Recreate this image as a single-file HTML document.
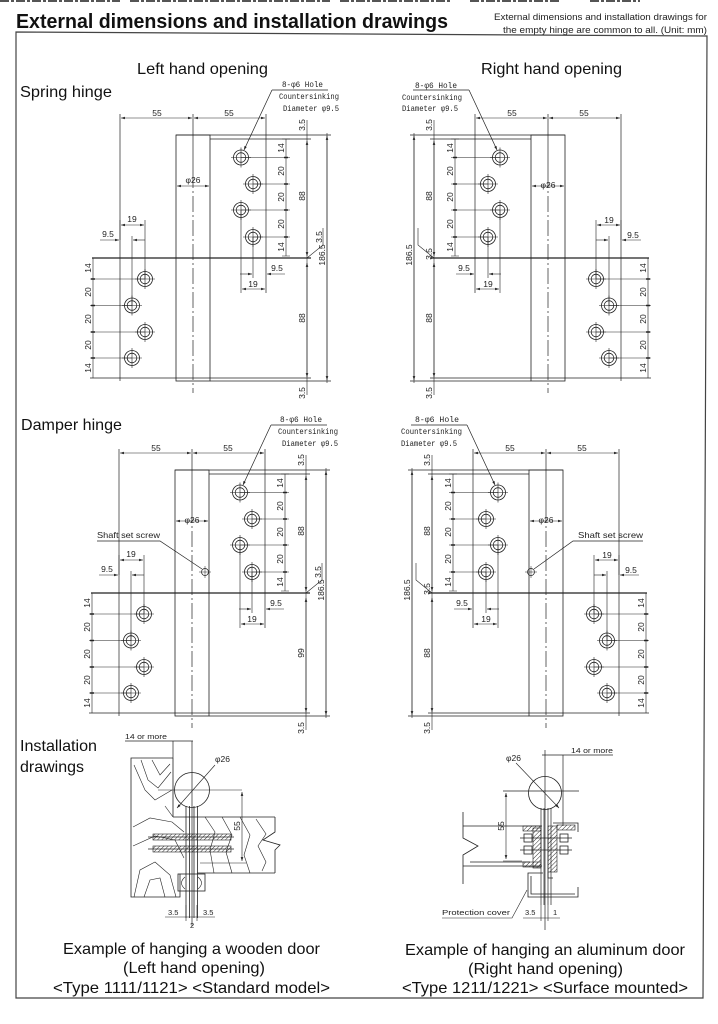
<!DOCTYPE html>
<html><head><meta charset="utf-8"><style>
html,body{margin:0;padding:0;background:#fff;}
svg{display:block;}
.L{font-family:"Liberation Sans",sans-serif;font-size:16px;fill:#111;}
.d{font-family:"Liberation Sans",sans-serif;font-size:8.5px;fill:#222;}
.m{font-family:"Liberation Mono",monospace;font-size:8.5px;fill:#222;}
.s{font-family:"Liberation Sans",sans-serif;font-size:7.5px;fill:#222;}
</style></head><body>
<svg width="718" height="1024" viewBox="0 0 718 1024" xmlns="http://www.w3.org/2000/svg">
<defs>
<marker id="a" viewBox="0 0 6 4" refX="6" refY="2" markerWidth="4" markerHeight="2.6" markerUnits="userSpaceOnUse" orient="auto-start-reverse"><path d="M0,0L6,2L0,4z" fill="#222"/></marker>
<pattern id="hat" width="3" height="3" patternUnits="userSpaceOnUse" patternTransform="rotate(45)"><line x1="0" y1="0" x2="0" y2="3" stroke="#333" stroke-width="1"/></pattern>
<g id="h" fill="none" stroke="#222" stroke-width="0.8"><circle r="7.5"/><circle r="4.8"/><path d="M-10,0H10M0,-10V10" stroke-width="0.6"/></g>
<g id="hs" fill="none" stroke="#222" stroke-width="0.8">
 <line x1="121" y1="118" x2="192" y2="118" stroke-width="0.6" marker-start="url(#a)" marker-end="url(#a)"/>
 <line x1="194" y1="118" x2="265" y2="118" stroke-width="0.6" marker-start="url(#a)" marker-end="url(#a)"/>
 <path d="M120,114V381M266,114V293M193,114V172" stroke-width="0.7"/>
 <path d="M193,172V393" stroke-width="0.7" stroke-dasharray="16 3 2 3"/>
 <rect x="176" y="135" width="34" height="246"/>
 <path d="M176,135H331M210,139H311M90,378H311M210,381H331"/>
 <path d="M92,258H311" stroke-width="1.2"/>
 <path d="M307,120V395M327,133V383M286,139V256" stroke-width="0.6"/>
 <line x1="307" y1="141" x2="307" y2="256" stroke-width="0.6" marker-start="url(#a)" marker-end="url(#a)"/>
 <line x1="307" y1="263" x2="307" y2="377" stroke-width="0.6" marker-start="url(#a)" marker-end="url(#a)"/>
 <line x1="327" y1="136" x2="327" y2="380" stroke-width="0.6" marker-start="url(#a)" marker-end="url(#a)"/>
 <path d="M241,157.5H290M253,184H290M241,210H290M253,237H290M282,256H290M282,139H290" stroke-width="0.6"/>
 <path d="M284,157.5H288M284,184H288M284,210H288M284,237H288" stroke-width="1.4"/>
 <path d="M93,258V378M90,279H145M90,305.5H132M90,332H145M90,358H132" stroke-width="0.6"/>
 <path d="M91,279H95M91,305.5H95M91,332H95M91,358H95" stroke-width="1.4"/>
 <line x1="121" y1="225" x2="144" y2="225" stroke-width="0.6" marker-start="url(#a)" marker-end="url(#a)"/>
 <path d="M145,220V279M132,236V306M120,220V240" stroke-width="0.6"/>
 <path d="M100,240H119" stroke-width="0.6" marker-end="url(#a)"/>
 <path d="M145,240H133" stroke-width="0.6" marker-end="url(#a)"/>
 <path d="M253,237V278M241,210V293" stroke-width="0.6"/>
 <path d="M240,274H252" stroke-width="0.6" marker-end="url(#a)"/>
 <path d="M285,274H267" stroke-width="0.6" marker-end="url(#a)"/>
 <line x1="242" y1="289" x2="265" y2="289" stroke-width="0.6" marker-start="url(#a)" marker-end="url(#a)"/>
 <path d="M307,258L323,245V228" stroke-width="0.6"/>
 <line x1="177" y1="186" x2="209" y2="186" stroke-width="0.6" marker-start="url(#a)" marker-end="url(#a)"/>
 <path d="M272,90H328" stroke-width="0.7"/>
 <path d="M272,90L244,150" stroke-width="0.7" marker-end="url(#a)"/>
 <use href="#h" x="241" y="157.5"/><use href="#h" x="253" y="184"/><use href="#h" x="241" y="210"/><use href="#h" x="253" y="237"/>
 <use href="#h" x="145" y="279"/><use href="#h" x="132" y="305.5"/><use href="#h" x="145" y="332"/><use href="#h" x="132" y="358"/>
</g>
</defs>

<!-- top scan noise -->
<path d="M0,1H120M130,1H330M340,1H450M470,1H560M590,1H640" stroke="#555" stroke-width="2" stroke-dasharray="9 2 3 2"/>

<!-- title -->
<text x="16" y="28" font-family="Liberation Sans, sans-serif" font-weight="bold" font-size="20" textLength="432" lengthAdjust="spacingAndGlyphs" fill="#111">External dimensions and installation drawings</text>
<text x="494" y="20" font-family="Liberation Sans, sans-serif" font-size="9.5" textLength="213" lengthAdjust="spacingAndGlyphs" fill="#222">External dimensions and installation drawings for</text>
<text x="503" y="33" font-family="Liberation Sans, sans-serif" font-size="9.5" textLength="204" lengthAdjust="spacingAndGlyphs" fill="#222">the empty hinge are common to all. (Unit: mm)</text>

<!-- frame -->
<path d="M16,32L707,36L703,998L16,998Z" fill="none" stroke="#444" stroke-width="1.2"/>

<!-- section titles -->
<text class="L" x="137" y="74" textLength="131" lengthAdjust="spacingAndGlyphs">Left hand opening</text>
<text class="L" x="481" y="74" textLength="141" lengthAdjust="spacingAndGlyphs">Right hand opening</text>
<text class="L" x="20" y="97" textLength="92" lengthAdjust="spacingAndGlyphs">Spring hinge</text>
<text class="L" x="21" y="430" textLength="101" lengthAdjust="spacingAndGlyphs">Damper hinge</text>
<text class="L" x="20" y="751" textLength="77" lengthAdjust="spacingAndGlyphs">Installation</text>
<text class="L" x="20" y="772" textLength="64" lengthAdjust="spacingAndGlyphs">drawings</text>

<!-- hinge drawings -->
<use href="#hs"/>
<use href="#hs" transform="matrix(-1 0 0 1 741 0)"/>
<use href="#hs" transform="translate(-1 335)"/>
<use href="#hs" transform="matrix(-1 0 0 1 739 335)"/>

<!-- shaft set screws -->
<g fill="none" stroke="#222" stroke-width="0.7">
 <path d="M97,541H160L202,569"/><circle cx="205" cy="572" r="3.5"/><path d="M199,572H211M205,566V578" stroke-width="0.5"/>
 <path d="M643,541H573L534,569"/><circle cx="531" cy="572" r="3.5"/><path d="M525,572H537M531,566V578" stroke-width="0.5"/>
</g>
<text class="d" x="97" y="538" textLength="63" lengthAdjust="spacingAndGlyphs">Shaft set screw</text>
<text class="d" x="578" y="538" textLength="65" lengthAdjust="spacingAndGlyphs">Shaft set screw</text>

<!-- leader texts -->
<g class="m">
 <text x="282" y="87" textLength="41" lengthAdjust="spacingAndGlyphs">8-φ6 Hole</text>
 <text x="279" y="99" textLength="60" lengthAdjust="spacingAndGlyphs">Countersinking</text>
 <text x="283" y="111" textLength="56" lengthAdjust="spacingAndGlyphs">Diameter φ9.5</text>
 <text x="415" y="88" textLength="42" lengthAdjust="spacingAndGlyphs">8-φ6 Hole</text>
 <text x="402" y="100" textLength="60" lengthAdjust="spacingAndGlyphs">Countersinking</text>
 <text x="402" y="111" textLength="56" lengthAdjust="spacingAndGlyphs">Diameter φ9.5</text>
 <text x="280" y="422" textLength="42" lengthAdjust="spacingAndGlyphs">8-φ6 Hole</text>
 <text x="278" y="434" textLength="60" lengthAdjust="spacingAndGlyphs">Countersinking</text>
 <text x="282" y="446" textLength="56" lengthAdjust="spacingAndGlyphs">Diameter φ9.5</text>
 <text x="415" y="422" textLength="44" lengthAdjust="spacingAndGlyphs">8-φ6 Hole</text>
 <text x="401" y="434" textLength="61" lengthAdjust="spacingAndGlyphs">Countersinking</text>
 <text x="401" y="446" textLength="56" lengthAdjust="spacingAndGlyphs">Diameter φ9.5</text>
</g>

<!-- dimension texts: left spring -->
<g class="d" text-anchor="middle">
 <text x="157" y="116">55</text><text x="229" y="116">55</text><text x="193" y="183">φ26</text>
 <text x="132" y="222">19</text><text x="108" y="237">9.5</text><text x="277" y="271">9.5</text><text x="253" y="287">19</text>
 <text transform="translate(305,125) rotate(-90)">3.5</text>
 <text transform="translate(284,148) rotate(-90)">14</text><text transform="translate(284,171) rotate(-90)">20</text>
 <text transform="translate(284,197) rotate(-90)">20</text><text transform="translate(284,224) rotate(-90)">20</text>
 <text transform="translate(284,247) rotate(-90)">14</text>
 <text transform="translate(305,196) rotate(-90)">88</text><text transform="translate(322,237) rotate(-90)">3.5</text>
 <text transform="translate(325,255) rotate(-90)">186.5</text><text transform="translate(305,318) rotate(-90)">88</text>
 <text transform="translate(305,393) rotate(-90)">3.5</text>
 <text transform="translate(91,268) rotate(-90)">14</text><text transform="translate(91,292) rotate(-90)">20</text>
 <text transform="translate(91,319) rotate(-90)">20</text><text transform="translate(91,345) rotate(-90)">20</text>
 <text transform="translate(91,368) rotate(-90)">14</text>
</g>
<!-- right spring -->
<g class="d" text-anchor="middle">
 <text x="584" y="116">55</text><text x="512" y="116">55</text><text x="548" y="188">φ26</text>
 <text x="609" y="223">19</text><text x="633" y="238">9.5</text><text x="464" y="271">9.5</text><text x="488" y="287">19</text>
 <text transform="translate(432,125) rotate(-90)">3.5</text>
 <text transform="translate(453,148) rotate(-90)">14</text><text transform="translate(453,171) rotate(-90)">20</text>
 <text transform="translate(453,197) rotate(-90)">20</text><text transform="translate(453,224) rotate(-90)">20</text>
 <text transform="translate(453,247) rotate(-90)">14</text>
 <text transform="translate(432,196) rotate(-90)">88</text><text transform="translate(432,254) rotate(-90)">3.5</text>
 <text transform="translate(412,255) rotate(-90)">186.5</text><text transform="translate(432,318) rotate(-90)">88</text>
 <text transform="translate(432,393) rotate(-90)">3.5</text>
 <text transform="translate(646,268) rotate(-90)">14</text><text transform="translate(646,292) rotate(-90)">20</text>
 <text transform="translate(646,319) rotate(-90)">20</text><text transform="translate(646,345) rotate(-90)">20</text>
 <text transform="translate(646,368) rotate(-90)">14</text>
</g>
<!-- damper left -->
<g class="d" text-anchor="middle">
 <text x="156" y="451">55</text><text x="228" y="451">55</text><text x="192" y="523">φ26</text>
 <text x="131" y="557">19</text><text x="107" y="572">9.5</text><text x="276" y="606">9.5</text><text x="252" y="622">19</text>
 <text transform="translate(304,460) rotate(-90)">3.5</text>
 <text transform="translate(283,483) rotate(-90)">14</text><text transform="translate(283,506) rotate(-90)">20</text>
 <text transform="translate(283,532) rotate(-90)">20</text><text transform="translate(283,559) rotate(-90)">20</text>
 <text transform="translate(283,582) rotate(-90)">14</text>
 <text transform="translate(304,531) rotate(-90)">88</text><text transform="translate(321,572) rotate(-90)">3.5</text>
 <text transform="translate(324,590) rotate(-90)">186.5</text><text transform="translate(304,653) rotate(-90)">99</text>
 <text transform="translate(304,728) rotate(-90)">3.5</text>
 <text transform="translate(90,603) rotate(-90)">14</text><text transform="translate(90,627) rotate(-90)">20</text>
 <text transform="translate(90,654) rotate(-90)">20</text><text transform="translate(90,680) rotate(-90)">20</text>
 <text transform="translate(90,703) rotate(-90)">14</text>
</g>
<!-- damper right -->
<g class="d" text-anchor="middle">
 <text x="582" y="451">55</text><text x="510" y="451">55</text><text x="546" y="523">φ26</text>
 <text x="607" y="558">19</text><text x="631" y="573">9.5</text><text x="462" y="606">9.5</text><text x="486" y="622">19</text>
 <text transform="translate(430,460) rotate(-90)">3.5</text>
 <text transform="translate(451,483) rotate(-90)">14</text><text transform="translate(451,506) rotate(-90)">20</text>
 <text transform="translate(451,532) rotate(-90)">20</text><text transform="translate(451,559) rotate(-90)">20</text>
 <text transform="translate(451,582) rotate(-90)">14</text>
 <text transform="translate(430,531) rotate(-90)">88</text><text transform="translate(430,589) rotate(-90)">3.5</text>
 <text transform="translate(410,590) rotate(-90)">186.5</text><text transform="translate(430,653) rotate(-90)">88</text>
 <text transform="translate(430,728) rotate(-90)">3.5</text>
 <text transform="translate(644,603) rotate(-90)">14</text><text transform="translate(644,627) rotate(-90)">20</text>
 <text transform="translate(644,654) rotate(-90)">20</text><text transform="translate(644,680) rotate(-90)">20</text>
 <text transform="translate(644,703) rotate(-90)">14</text>
</g>

<!-- installation left (wooden door) -->
<g fill="none" stroke="#222" stroke-width="0.8">
 <path d="M125,741H193M173,741V758M192,741V926" stroke-width="0.7"/>
 <path d="M173,758H131V897H180V874M173,758V817"/>
 <circle cx="192" cy="790" r="17.5"/>
 <path d="M158,790H242" stroke-width="0.6"/>
 <path d="M215,765L177,808" stroke-width="0.6" marker-end="url(#a)"/>
 <path d="M186,806V918M189.5,806V918M194,806V918M197.5,806V918"/>
 <path d="M173,817H275M197,873H275M275,817V832L263,840L280,845L275,850V873"/>
 <line x1="242" y1="792" x2="242" y2="861" stroke-width="0.6" marker-start="url(#a)" marker-end="url(#a)"/>
 <path d="M200,863H246" stroke-width="0.5"/>
 <rect x="153" y="834" width="78" height="6" fill="url(#hat)" stroke-width="0.6"/>
 <rect x="153" y="846" width="78" height="6" fill="url(#hat)" stroke-width="0.6"/>
 <path d="M148,837H234M148,849H234" stroke-width="0.7"/>
 <rect x="178" y="874" width="27" height="17"/>
 <path d="M185,877Q178,883 185,889M198,877Q205,883 198,889" stroke-width="0.6"/>
 <path d="M165,917H215M186,905V921M197,905V921" stroke-width="0.6"/>
 <g stroke-width="0.6">
  <path d="M134,765L145,790L155,800L172,790"/>
  <path d="M141,760L148,780L158,788L171,772"/>
  <path d="M152,760L160,775L170,764"/>
  <path d="M133,827L150,818L172,822L184,832"/>
  <path d="M133,846L155,836L175,840L184,858"/>
  <path d="M134,897L140,870L155,862L170,875L176,897"/>
  <path d="M144,897L150,880L160,878L165,897"/>
  <path d="M165,806L173,817"/>
  <path d="M205,817L215,832L210,850L214,873"/>
  <path d="M222,817L232,835L226,852L232,873"/>
  <path d="M240,817L250,835L244,855L250,873"/>
  <path d="M256,819L266,834L258,846L266,862L262,871"/>
 </g>
</g>
<g class="s">
 <text x="125" y="739" textLength="42" lengthAdjust="spacingAndGlyphs">14 or more</text>
 <text x="215" y="762" font-size="8.5">φ26</text>
 <text transform="translate(240,826) rotate(-90)" text-anchor="middle" font-size="8.5">55</text>
 <text x="168" y="915">3.5</text><text x="203" y="915">3.5</text><text x="190" y="928">2</text>
</g>

<!-- installation right (aluminum door) -->
<g fill="none" stroke="#222" stroke-width="0.8">
 <path d="M542,755H613M563,755V826M545,750V930" stroke-width="0.7"/>
 <circle cx="545" cy="793" r="16.5"/>
 <path d="M503,791H579" stroke-width="0.7"/>
 <path d="M516,763L559,808" stroke-width="0.6" marker-end="url(#a)"/>
 <line x1="506" y1="793" x2="506" y2="859" stroke-width="0.6" marker-start="url(#a)" marker-end="url(#a)"/>
 <path d="M503,861H522" stroke-width="0.5"/>
 <path d="M463,812V838L478,846L463,855V884"/>
 <path d="M463,826H542M463,866H542M470,862H530"/>
 <rect x="523" y="826" width="18" height="5" fill="url(#hat)" stroke-width="0.6"/>
 <rect x="523" y="862" width="18" height="5" fill="url(#hat)" stroke-width="0.6"/>
 <rect x="533" y="828" width="8" height="40" fill="url(#hat)" stroke-width="0.6"/>
 <rect x="548" y="826" width="9" height="46" fill="url(#hat)" stroke-width="0.6"/>
 <rect x="557" y="825" width="18" height="5" fill="url(#hat)" stroke-width="0.6"/>
 <path d="M553,823H578V832M548,872V878H553"/>
 <path d="M541,808V905M544,808V905M548,808V905M551,808V905" stroke-width="0.7"/>
 <path d="M520,838H572M520,850H572" stroke-width="0.8"/>
 <rect x="524" y="834" width="8" height="8"/><rect x="524" y="846" width="8" height="8"/>
 <rect x="560" y="834" width="8" height="8"/><rect x="560" y="846" width="8" height="8"/>
 <path d="M543,873H528V897H578V887M531,876V894H575"/>
 <path d="M442,918H512L527,890" stroke-width="0.6"/>
 <path d="M523,918H560M541,905V921M548,905V921" stroke-width="0.6"/>
</g>
<g class="s">
 <text x="506" y="761" font-size="8.5">φ26</text>
 <text x="571" y="753" textLength="42" lengthAdjust="spacingAndGlyphs">14 or more</text>
 <text transform="translate(504,826) rotate(-90)" text-anchor="middle" font-size="8.5">55</text>
 <text x="442" y="915" textLength="68" lengthAdjust="spacingAndGlyphs">Protection cover</text>
 <text x="525" y="915">3.5</text><text x="553" y="915">1</text>
</g>

<!-- captions -->
<text class="L" x="63" y="954" textLength="257" lengthAdjust="spacingAndGlyphs">Example of hanging a wooden door</text>
<text class="L" x="123" y="973" textLength="142" lengthAdjust="spacingAndGlyphs">(Left hand opening)</text>
<text class="L" x="53" y="993" textLength="277" lengthAdjust="spacingAndGlyphs">&lt;Type 1111/1121&gt; &lt;Standard model&gt;</text>
<text class="L" x="405" y="955" textLength="280" lengthAdjust="spacingAndGlyphs">Example of hanging an aluminum door</text>
<text class="L" x="468" y="974" textLength="155" lengthAdjust="spacingAndGlyphs">(Right hand opening)</text>
<text class="L" x="402" y="993" textLength="286" lengthAdjust="spacingAndGlyphs">&lt;Type 1211/1221&gt; &lt;Surface mounted&gt;</text>
</svg>
</body></html>
